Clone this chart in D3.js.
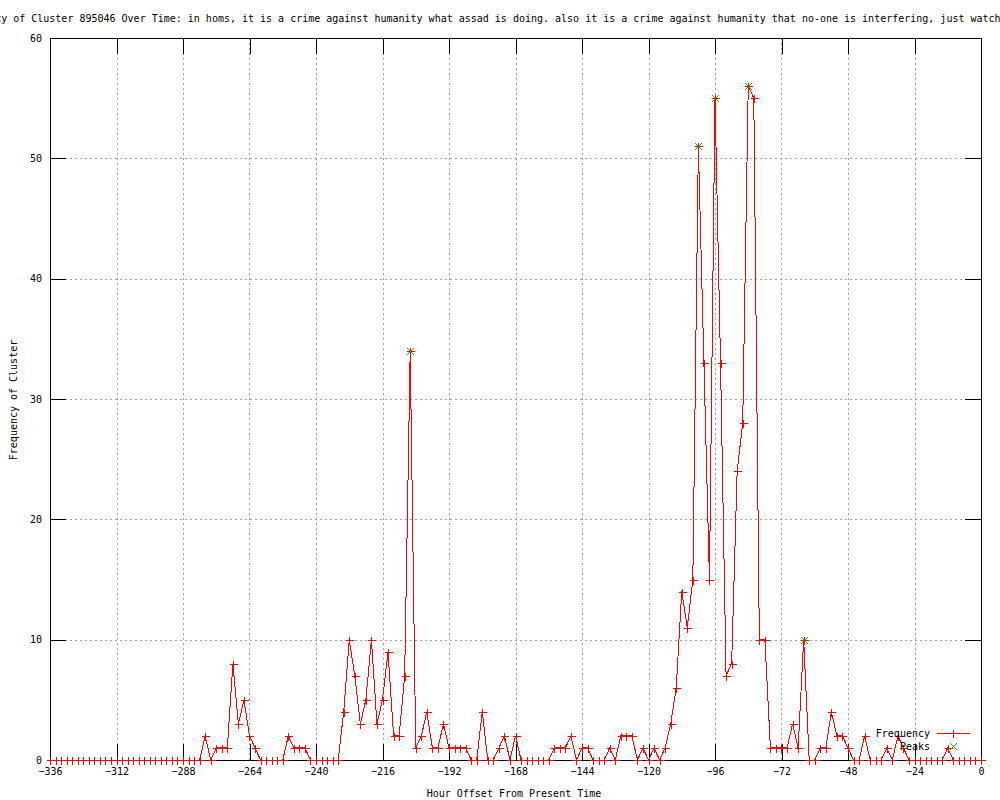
<!DOCTYPE html>
<html>
<head>
<meta charset="utf-8">
<script src="https://cdn.jsdelivr.net/npm/d3@7"></script>
<style>
body { margin: 0; background: #fff; }
text { font-family: "DejaVu Sans Mono", monospace; font-size: 10px; fill: #000; }
</style>
</head>
<body>
<script>
const hours = [
	-336,-334,-332,-330,-328,-326,-324,-322,-320,-318,
	-316,-314,-312,-310,-308,-306,-304,-302,-300,-298,
	-296,-294,-292,-290,-288,-286,-284,-282,-280,-278,
	-276,-274,-272,-270,-268,-266,-264,-262,-260,-258,
	-256,-254,-252,-250,-248,-246,-244,-242,-240,-238,
	-236,-234,-232,-230,-228,-226,-224,-222,-220,-218,
	-216,-214,-212,-210,-208,-206,-204,-202,-200,-198,
	-196,-194,-192,-190,-188,-186,-184,-182,-180,-178,
	-176,-174,-172,-170,-168,-166,-164,-162,-160,-158,
	-156,-154,-152,-150,-148,-146,-144,-142,-140,-138,
	-136,-134,-132,-130,-128,-126,-124,-122,-120,-118,
	-116,-114,-112,-110,-108,-106,-104,-102,-100,-98,
	-96,-94,-92,-90,-88,-86,-84,-82,-80,-78,
	-76,-74,-72,-70,-68,-66,-64,-62,-60,-58,
	-56,-54,-52,-50,-48,-46,-44,-42,-40,-38,
	-36,-34,-32,-30,-28,-26,-24,-22,-20,-18,
	-16,-14,-12,-10,-8,-6,-4,-2,0
];

const counts = [
	0,0,0,0,0,0,0,0,0,0,
	0,0,0,0,0,0,0,0,0,0,
	0,0,0,0,0,0,0,0,2,0,
	1,1,1,8,3,5,2,1,0,0,
	0,0,0,2,1,1,1,0,0,0,
	0,0,0,4,10,7,3,5,10,3,
	5,9,2,2,7,34,1,2,4,1,
	1,3,1,1,1,1,0,0,4,0,
	0,1,2,0,2,0,0,0,0,0,
	0,1,1,1,2,0,1,1,0,0,
	0,1,0,2,2,2,0,1,0,1,
	0,1,3,6,14,11,15,51,33,15,
	55,33,7,8,24,28,56,55,10,10,
	1,1,1,1,3,1,10,0,0,1,
	1,4,2,2,1,0,0,2,0,0,
	0,1,0,2,1,0,0,0,0,0,
	0,0,1,0,0,0,0,0,0
];

const peakHours = [-206, -102, -96, -84, -64];
const peakCounts = [34, 51, 55, 56, 10];

const xTicks = [-336, -312, -288, -264, -240, -216, -192, -168, -144, -120, -96, -72, -48, -24, 0];
const yTicks = [0, 10, 20, 30, 40, 50, 60];

const title = "Frequency of Cluster 895046 Over Time: in homs, it is a crime against humanity what assad is doing. also it is a crime against humanity that no-one is interfering, just watching";

const plotL = 50, plotR = 981, plotT = 38, plotB = 760;
const tickLen = 16;
const red = "#ff0000", green = "#00c800", grey = "#a0a0a0";

const svg = d3.select("body")
				.append("svg")
				.attr("width", 1000)
				.attr("height", 800);

const x = d3.scaleLinear().domain([-336, 0]).range([plotL, plotR]);
const y = d3.scaleLinear().domain([0, 60]).range([plotB, plotT]);

// grid
svg.append("g")
	.selectAll("line")
	.data(xTicks.filter((d) => d != -336 && d != 0))
	.enter()
	.append("line")
	.attr("x1", (d) => Math.round(x(d)) + 0.5)
	.attr("x2", (d) => Math.round(x(d)) + 0.5)
	.attr("y1", plotT)
	.attr("y2", plotB)
	.style("stroke", grey)
	.style("stroke-dasharray", "2,3");

svg.append("g")
	.selectAll("line")
	.data(yTicks.filter((d) => d != 0 && d != 60))
	.enter()
	.append("line")
	.attr("x1", plotL)
	.attr("x2", plotR)
	.attr("y1", (d) => Math.round(y(d)) + 0.5)
	.attr("y2", (d) => Math.round(y(d)) + 0.5)
	.style("stroke", grey)
	.style("stroke-dasharray", "2,3");

// axes, ticks inside and mirrored like gnuplot
const xAxisB = d3.axisBottom(x).tickValues(xTicks).tickSizeInner(-tickLen).tickSizeOuter(0).tickPadding(8);
const xAxisT = d3.axisTop(x).tickValues(xTicks).tickSizeInner(-tickLen).tickSizeOuter(0).tickFormat("");
const yAxisL = d3.axisLeft(y).tickValues(yTicks).tickSizeInner(-tickLen).tickSizeOuter(0).tickPadding(8);
const yAxisR = d3.axisRight(y).tickValues(yTicks).tickSizeInner(-tickLen).tickSizeOuter(0).tickFormat("");

function styleAxis(g) {
	g.select(".domain").remove();
	g.selectAll("line").style("stroke", "#000").attr("shape-rendering", "crispEdges");
	g.attr("font-family", null).attr("font-size", null);
}

svg.append("g").attr("transform", "translate(0," + plotB + ")").call(xAxisB).call(styleAxis);
svg.append("g").attr("transform", "translate(0," + plotT + ")").call(xAxisT).call(styleAxis);
svg.append("g").attr("transform", "translate(" + plotL + ",0)").call(yAxisL).call(styleAxis);
svg.append("g").attr("transform", "translate(" + plotR + ",0)").call(yAxisR).call(styleAxis);

svg.append("rect")
	.attr("x", plotL + 0.5)
	.attr("y", plotT + 0.5)
	.attr("width", plotR - plotL)
	.attr("height", plotB - plotT)
	.style("fill", "none")
	.style("stroke", "#000");

// frequency line
const data = hours.map((h, i) => ({h: h, c: counts[i]}));
const line = d3.line().x((d) => x(d.h)).y((d) => y(d.c));

svg.append("path")
	.datum(data)
	.attr("d", line)
	.style("fill", "none")
	.style("stroke", red)
	.attr("shape-rendering", "crispEdges");

const plus = (cx, cy) => "M" + (cx - 4) + "," + cy + "H" + (cx + 4) + "M" + cx + "," + (cy - 4) + "V" + (cy + 4);
const cross = (cx, cy) => "M" + (cx - 3.5) + "," + (cy - 3.5) + "L" + (cx + 3.5) + "," + (cy + 3.5) + "M" + (cx - 3.5) + "," + (cy + 3.5) + "L" + (cx + 3.5) + "," + (cy - 3.5);

svg.append("g")
	.selectAll("path")
	.data(data)
	.enter()
	.append("path")
	.attr("d", (d) => plus(Math.round(x(d.h)) + 0.5, Math.round(y(d.c)) + 0.5))
	.style("stroke", red)
	.style("fill", "none")
	.attr("shape-rendering", "crispEdges");

// peaks
svg.append("g")
	.selectAll("path")
	.data(peakHours.map((h, i) => ({h: h, c: peakCounts[i]})))
	.enter()
	.append("path")
	.attr("d", (d) => cross(Math.round(x(d.h)) + 0.5, Math.round(y(d.c)) + 0.5))
	.style("stroke", green)
	.style("fill", "none")
	.attr("shape-rendering", "crispEdges");

// legend
svg.append("text").attr("x", 930).attr("y", 733).attr("dy", "0.35em").attr("text-anchor", "end").text("Frequency");
svg.append("text").attr("x", 930).attr("y", 746).attr("dy", "0.35em").attr("text-anchor", "end").text("Peaks");
svg.append("line")
	.attr("x1", 937).attr("x2", 970).attr("y1", 733.5).attr("y2", 733.5)
	.style("stroke", red).attr("shape-rendering", "crispEdges");
svg.append("path").attr("d", plus(953.5, 733.5))
	.style("stroke", red).style("fill", "none").attr("shape-rendering", "crispEdges");
svg.append("path").attr("d", cross(953.5, 746.5))
	.style("stroke", green).style("fill", "none").attr("shape-rendering", "crispEdges");

// titles
svg.append("text").attr("x", -47).attr("y", 22).text(title);
svg.append("text").attr("x", 514).attr("y", 797).attr("text-anchor", "middle").text("Hour Offset From Present Time");
svg.append("text")
	.attr("transform", "translate(17,400) rotate(-90)")
	.attr("text-anchor", "middle")
	.text("Frequency of Cluster");
</script>
</body>
</html>
